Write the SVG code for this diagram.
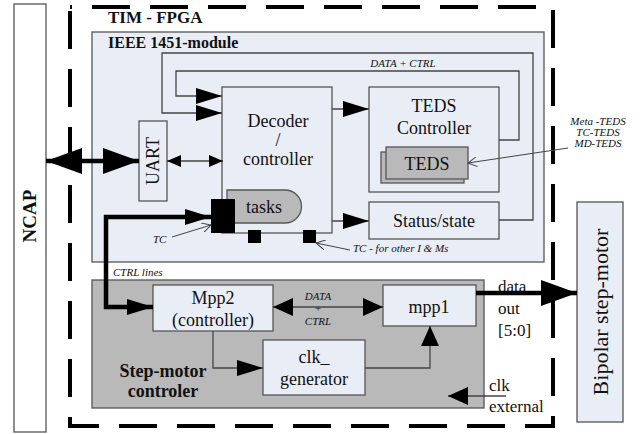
<svg xmlns="http://www.w3.org/2000/svg" width="643" height="434" viewBox="0 0 643 434" font-family="'Liberation Serif', 'DejaVu Serif', 'Times New Roman', serif">
<defs>
<style>
text{font-family:'Liberation Serif','DejaVu Serif','Times New Roman',serif;fill:#111}
.box{fill:#e9edf6;stroke:#555;stroke-width:1.3}
.gray{fill:#b9b9b9;stroke:#555;stroke-width:1.3}
.ln{fill:none;stroke:#444;stroke-width:1.3}
.thick{fill:none;stroke:#000;stroke-width:4.5}
.note{fill:none;stroke:#444;stroke-width:1}
.lbl{font-size:18px;text-anchor:middle}
.it{font-style:italic;font-size:11px}
.bold{font-weight:bold}
</style>
<marker id="arr" markerUnits="userSpaceOnUse" markerWidth="26" markerHeight="18" refX="26" refY="8" orient="auto-start-reverse" viewBox="0 0 26 16"><path d="M0,0 L26,8 L0,16 z" fill="#000"/></marker>
<marker id="arrS" markerUnits="userSpaceOnUse" markerWidth="14" markerHeight="12" refX="14" refY="6" orient="auto-start-reverse" viewBox="0 0 14 12"><path d="M0,0 L14,6 L0,12 z" fill="#000"/></marker>
<marker id="arrM" markerUnits="userSpaceOnUse" markerWidth="20" markerHeight="18" refX="20" refY="9" orient="auto-start-reverse" viewBox="0 0 20 18"><path d="M0,0 L20,9 L0,18 z" fill="#000"/></marker>
<marker id="arrB" markerUnits="userSpaceOnUse" markerWidth="36" markerHeight="26" refX="36" refY="13" orient="auto-start-reverse" viewBox="0 0 36 26"><path d="M0,0 L36,13 L0,26 z" fill="#000"/></marker>
<marker id="open" markerUnits="userSpaceOnUse" markerWidth="10" markerHeight="10" refX="9" refY="5" orient="auto" viewBox="0 0 10 10"><path d="M0,0 L9,5 L0,10" fill="none" stroke="#444" stroke-width="1"/></marker>
</defs>
<rect x="0" y="0" width="643" height="434" fill="#fff"/>

<g id="ncap">
<rect x="14" y="4" width="32" height="428" fill="#fff" stroke="#555" stroke-width="1.3"/>
<text transform="translate(36,216) rotate(-90)" class="bold" font-size="19" text-anchor="middle">NCAP</text>
</g>

<g id="tim-fpga">
<rect x="70" y="7" width="483" height="419" fill="none" stroke="#000" stroke-width="4" stroke-dasharray="38 20" stroke-dashoffset="-22"/>
<text x="108" y="23" class="bold" font-size="17">TIM - FPGA</text>
</g>

<g id="ieee1451-module">
<rect x="92" y="32" width="452" height="230" class="box"/>
<text x="108" y="48" class="bold" font-size="16">IEEE 1451-module</text>
<text x="403" y="67" class="it" text-anchor="middle">DATA   + CTRL</text>
</g>

<g id="uart">
<rect x="139" y="121" width="28" height="80" class="box"/>
<text transform="translate(159,161) rotate(-90)" font-size="18" text-anchor="middle">UART</text>
</g>

<g id="decoder">
<rect x="222" y="87" width="110" height="146" class="box"/>
<text x="278" y="127" class="lbl" font-size="19">Decoder</text>
<text x="278" y="146" class="lbl" font-size="17">/</text>
<text x="278" y="165" class="lbl" font-size="19">controller</text>
</g>

<g id="tasks">
<path d="M227,190 H285 A16.5,16.5 0 0 1 285,223 H227 Z" class="gray"/>
<text x="264" y="213" class="lbl" font-size="19">tasks</text>
<rect x="211" y="199" width="24" height="34" fill="#000"/>
<rect x="248" y="230" width="13" height="13" fill="#000"/>
<rect x="303" y="230" width="13" height="13" fill="#000"/>
</g>

<g id="teds-controller">
<rect x="369" y="87" width="130" height="105" class="box"/>
<text x="434" y="112" class="lbl" font-size="20">TEDS</text>
<text x="434" y="134" class="lbl" font-size="20">Controller</text>
</g>

<g id="teds">
<rect x="381" y="152" width="83" height="31" class="gray"/>
<rect x="386" y="147" width="82" height="32" class="gray"/>
<text x="427" y="170" class="lbl" font-size="19">TEDS</text>
</g>

<g id="status-state">
<rect x="369" y="202" width="130" height="37" class="box"/>
<text x="434" y="227" class="lbl" font-size="17">Status/state</text>
</g>

<g id="teds-types">
<text x="598" y="125" class="it" text-anchor="middle">Meta -TEDS</text>
<text x="598" y="136" class="it" text-anchor="middle">TC-TEDS</text>
<text x="598" y="147" class="it" text-anchor="middle">MD-TEDS</text>
</g>

<g id="tc-labels">
<text x="153" y="243" class="it">TC</text>
<text x="353" y="252" class="it">TC - for other I &amp; Ms</text>
<text x="113" y="276" class="it">CTRL lines</text>
</g>

<g id="step-motor-controller">
<rect x="92" y="280" width="392" height="128" class="gray"/>
<text x="163" y="377" class="lbl bold" font-size="17">Step-motor</text>
<text x="163" y="397" class="lbl bold" font-size="17">controler</text>
<text x="318" y="300" class="it" font-size="10" text-anchor="middle">DATA</text>
<text x="318" y="312" class="it" font-size="9" text-anchor="middle">+</text>
<text x="318" y="325" class="it" font-size="10" text-anchor="middle">CTRL</text>
</g>

<g id="mpp2">
<rect x="153" y="285" width="120" height="46" class="box"/>
<text x="213" y="304" class="lbl" font-size="18">Mpp2</text>
<text x="213" y="326" class="lbl" font-size="18">(controller)</text>
</g>

<g id="mpp1">
<rect x="383" y="285" width="93" height="41" class="box"/>
<text x="429" y="313" class="lbl" font-size="18">mpp1</text>
</g>

<g id="clk-generator">
<rect x="263" y="340" width="102" height="55" class="box"/>
<text x="314" y="363" class="lbl" font-size="18">clk_</text>
<text x="314" y="385" class="lbl" font-size="18">generator</text>
</g>

<g id="io-labels">
<text x="498" y="292" font-size="17">data</text>
<text x="498" y="314" font-size="17">out</text>
<text x="498" y="336" font-size="17">[5:0]</text>
<text x="489" y="391" font-size="17">clk</text>
<text x="489" y="412" font-size="17">external</text>
</g>

<g id="bipolar-step-motor">
<rect x="577" y="202" width="46" height="220" class="box"/>
<text transform="translate(608,312) rotate(-90)" font-size="22" text-anchor="middle">Bipolar step-motor</text>
</g>

<g id="connectors">
<path d="M499,220 H533 V53 H162 V113 H222" class="ln" marker-end="url(#arr)"/>
<path d="M499,140 H519 V71 H176 V96 H222" class="ln" marker-end="url(#arr)"/>
<path d="M332,109 H369" class="ln" marker-end="url(#arr)"/>
<path d="M332,221 H369" class="ln" marker-end="url(#arr)"/>
<path d="M167,161 H223" class="ln" marker-start="url(#arrS)" marker-end="url(#arrS)"/>
<path d="M46,161 H139" class="thick" marker-start="url(#arrB)" marker-end="url(#arrB)"/>
<path d="M211,217 H106 V307 H153" class="thick" marker-start="url(#arr)" marker-end="url(#arr)"/>
<path d="M273,307 H383" class="ln" marker-start="url(#arrM)" marker-end="url(#arrM)"/>
<path d="M213,331 V368 H263" class="ln" marker-end="url(#arr)"/>
<path d="M365,368 H430 V326" class="ln" marker-end="url(#arrM)"/>
<path d="M476,293 H577" class="thick" marker-end="url(#arrB)"/>
<path d="M506,396 H448" class="ln" marker-end="url(#arrM)"/>
<path d="M568,148 L468,163" class="note" marker-end="url(#open)"/>
<path d="M172,237 L211,225" class="note" marker-end="url(#open)"/>
<path d="M350,250 L316,243" class="note" marker-end="url(#open)"/>
</g>
</svg>
